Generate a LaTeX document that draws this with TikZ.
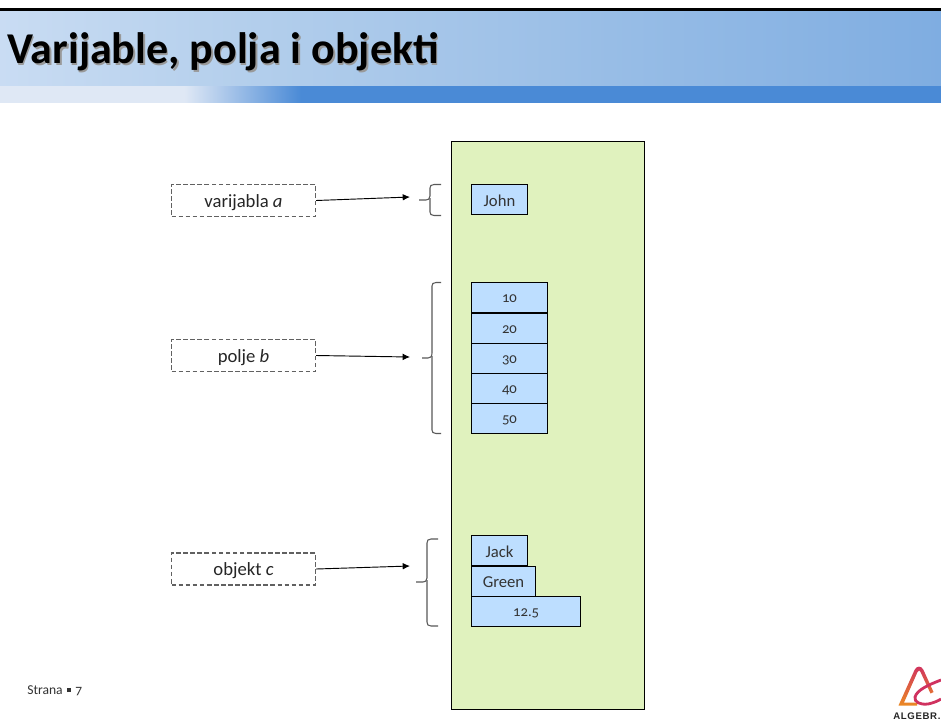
\documentclass[tikz,border=0pt]{standalone}
\usepackage{fontspec}
\setmainfont[Numbers=OldStyle]{Carlito}
\newfontfamily\logofont[LetterSpace=7]{Liberation Sans}
\usetikzlibrary{arrows.meta}
\definecolor{hdA}{HTML}{C9DCF3}
\definecolor{hdB}{HTML}{B4CFEC}
\definecolor{hdC}{HTML}{7FADE1}
\definecolor{stA}{HTML}{DFE8F5}
\definecolor{stB}{HTML}{4A8AD6}
\definecolor{memgreen}{HTML}{E0F2BE}
\definecolor{cellblue}{HTML}{BDDEFF}
\definecolor{logoO}{HTML}{EB8A24}
\definecolor{logoR}{HTML}{D0325F}
\pgfdeclarehorizontalshading{headband}{100bp}{color(0bp)=(hdA); color(25bp)=(hdA); color(37.75bp)=(hdB); color(75bp)=(hdC); color(100bp)=(hdC)}
\pgfdeclarehorizontalshading{stripband}{100bp}{color(0bp)=(stA); color(34.8bp)=(stA); color(41bp)=(stB); color(100bp)=(stB)}
\tikzset{
  x=0.75pt,y=-0.75pt,
  cell/.style={draw=black,fill=cellblue,line width=0.7pt,text=black!80,inner sep=0pt,anchor=north west,minimum height=22.6pt},
  celltext/.style={cell,font=\fontsize{12.5}{15}\selectfont,text height=10.5pt,text depth=0.5pt},
  cellnum/.style={cell,font=\fontsize{11}{13}\selectfont,text height=9.5pt,text depth=1.5pt},
  dashbox/.style={draw=black!62,line width=1.1pt,dash pattern=on 3.5pt off 1.8pt,fill=white,minimum width=108pt,minimum height=24.2pt,inner sep=0pt,font=\fontsize{14}{16}\selectfont,text=black!85,text height=11.5pt,text depth=1.5pt},
  conn/.style={draw=black,line width=0.7pt,-{Latex[length=5.5pt,width=5pt]}},
  bracegray/.style={draw=black!65,line width=0.8pt},
  titletext/.style={anchor=base west,inner sep=0pt,font=\fontsize{33}{38}\bfseries\selectfont},
}
\begin{document}
\begin{tikzpicture}
\useasboundingbox (0,0) rectangle (941,721);
\clip (0,0) rectangle (941,721);
\fill[white] (0,0) rectangle (941,721);
% header
\fill[black] (0,8) rectangle (941,11);
\shade[shading=headband] (0,11) rectangle (941,86);
\shade[shading=stripband] (0,86) rectangle (941,102);
\node[titletext,text=black!40] (titleshadow) at (8.5,65) {Varijable, polja i objekti};
\node[titletext] (title) at (7,63) {Varijable, polja i objekti};
% memory
\node[draw=black,fill=memgreen,line width=0.7pt,anchor=north west,minimum width=144.5pt,minimum height=426pt,inner sep=0pt] (mem) at (451,141) {};
% cells
\node[celltext,minimum width=42pt] (john) at (471,184) {John};
\node[cellnum,minimum width=57pt] (c10) at (471,282) {10};
\node[cellnum,minimum width=57pt] (c20) at (471,312.5) {20};
\node[cellnum,minimum width=57pt] (c30) at (471,342.5) {30};
\node[cellnum,minimum width=57pt] (c40) at (471,372.5) {40};
\node[cellnum,minimum width=57pt] (c50) at (471,403) {50};
\node[celltext,minimum width=42pt] (jack) at (471,535) {Jack};
\node[celltext,minimum width=48pt] (green) at (471,565.5) {Green};
\node[cellnum,minimum width=82pt] (num) at (471,596) {12.5};
% label boxes
\node[dashbox] (a) at (243.5,200.5) {varijabla \textit{a}};
\node[dashbox] (b) at (243.5,355.5) {polje \textit{b}};
\node[dashbox] (o) at (243.5,569) {objekt \textit{c}};
% braces
\coordinate (bra) at (419,200);
\coordinate (brb) at (422,358);
\coordinate (brc) at (416,582);
\coordinate (ta) at (410,197);
\coordinate (tb) at (410,357);
\coordinate (tc) at (410,566);
\draw[bracegray] (441,184.5) -- (434,184.5) .. controls (431,184.5) and (430,186) .. (430,188) -- (430,196) .. controls (430,199) and (428,200) .. (426,200) -- (bra);
\draw[bracegray] (430,198) -- (430,212) .. controls (430,214) and (431,215.5) .. (434,215.5) -- (441,215.5);
\draw[bracegray] (441,282.5) -- (436,282.5) .. controls (433,282.5) and (432,284) .. (432,286) -- (432,353) .. controls (432,357) and (430,358) .. (428,358) -- (brb);
\draw[bracegray] (432,356) -- (432,430) .. controls (432,432) and (433,433.5) .. (436,433.5) -- (441,433.5);
\draw[bracegray] (438,539) -- (431,539) .. controls (428,539) and (427,540.5) .. (427,543) -- (427,578) .. controls (427,581) and (425,582) .. (423,582) -- (brc);
\draw[bracegray] (427,580) -- (427,622) .. controls (427,624.5) and (428,626) .. (431,626) -- (438,626);
% connectors
\draw[conn] (a.east) -- (ta);
\draw[conn] (b.east) -- (tb);
\draw[conn] (o.east) -- (tc);
% footer
\node[anchor=base west,inner sep=0pt,font=\fontsize{10.2}{12}\selectfont,text=black!80] (page) at (27,694) {Strana\hspace{3.5pt}\raisebox{1.5pt}{\rule{3pt}{3pt}}\hspace{3pt}7};
% logo
\shade[bottom color=logoO,top color=logoR]
  (898.5,705.5) -- (914.5,670) .. controls (916.5,665.5) and (921.5,665.5) .. (923.5,670) -- (933.5,692) -- (930.5,693.5) -- (920.5,672) .. controls (919.5,670) and (918.5,670) .. (917.5,672) -- (904,702.5) -- (917,702.5) -- (917,705.5) -- cycle;
\begin{scope}
\clip (905,670) rectangle (941,710);
\draw[line width=2.1pt,logoR] (941,680) .. controls (928,685) and (917,690) .. (915,697) .. controls (914,702) and (920,705) .. (928,704) .. controls (933,703) and (938,701) .. (941,699);
\end{scope}
\node[anchor=base west,inner sep=0pt,font=\logofont\bfseries\fontsize{7.2}{8}\selectfont,text=black!85] (logo) at (893,719) {ALGEBR.};
\end{tikzpicture}
\end{document}
